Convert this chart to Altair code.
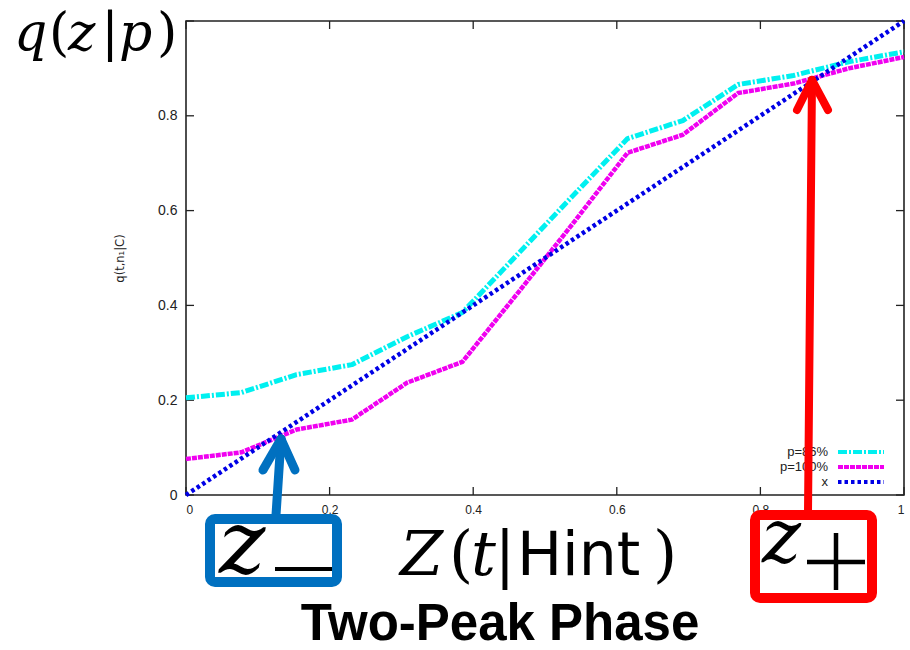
import altair as alt
import pandas as pd

# Curve samples on a grid of 13 steps over [0, 1]
z_grid = [0.0, 0.077, 0.154, 0.231, 0.308, 0.385, 0.462, 0.538, 0.615, 0.692, 0.769, 0.846, 0.923, 1.0]
q_p86 = [0.205, 0.216, 0.254, 0.275, 0.334, 0.385, 0.508, 0.630, 0.752, 0.790, 0.866, 0.885, 0.914, 0.935]
q_p100 = [0.076, 0.090, 0.138, 0.159, 0.237, 0.281, 0.426, 0.571, 0.722, 0.760, 0.848, 0.868, 0.900, 0.924]
diag_x = [0.0, 1.0]
diag_y = [0.0, 1.0]

series_names = ["p=86%", "p=100%", "x"]
series_colors = ["#00F0F0", "#F000F0", "#0000E6"]
series_dashes = [[9, 2, 2, 2], [5, 1], [3.5, 3]]
series_widths = [5, 4.5, 4.5]

x_ticks = [0, 0.2, 0.4, 0.6, 0.8, 1]
y_ticks = [0, 0.2, 0.4, 0.6, 0.8]

W, H = 718, 474
AX = "#222222"

xs = alt.Scale(domain=[0, 1], nice=False)
ys = alt.Scale(domain=[0, 1], nice=False)

x_axis = alt.Axis(values=x_ticks, format="~g", labelFontSize=12, labelColor=AX,
                  labelPadding=9, ticks=False, domain=False, grid=False, title=None,
                  labelFont="Liberation Sans")
y_axis = alt.Axis(values=y_ticks, format="~g", labelFontSize=14, labelColor=AX,
                  labelPadding=9, ticks=False, domain=False, grid=False,
                  title="q(t,n\u2081|C)", titleFontSize=11.5, titleFontWeight="normal",
                  titleColor=AX, titlePadding=32, labelFont="Liberation Sans",
                  titleFont="DejaVu Sans")

one = pd.DataFrame({"k": [0]})

def curve(xv, yv, i):
    df = pd.DataFrame({"z": xv, "q": yv})
    return alt.Chart(df).mark_line(
        color=series_colors[i], strokeDash=series_dashes[i],
        strokeWidth=series_widths[i], strokeCap="butt", strokeJoin="round"
    ).encode(x=alt.X("z:Q", scale=xs, axis=x_axis),
             y=alt.Y("q:Q", scale=ys, axis=y_axis))

layers = []

# inward ticks on all four sides of the frame
xt = pd.DataFrame({"v": x_ticks})
yt = pd.DataFrame({"v": [0, 0.2, 0.4, 0.6, 0.8, 1.0]})
tick_style = dict(color=AX, strokeWidth=1.3)
layers.append(alt.Chart(yt).mark_rule(**tick_style).encode(
    y=alt.Y("v:Q", scale=ys, axis=y_axis), x=alt.value(0), x2=alt.value(8)))
layers.append(alt.Chart(yt).mark_rule(**tick_style).encode(
    y=alt.Y("v:Q", scale=ys, axis=y_axis), x=alt.value(W - 8), x2=alt.value(W)))
layers.append(alt.Chart(xt).mark_rule(**tick_style).encode(
    x=alt.X("v:Q", scale=xs, axis=x_axis), y=alt.value(H), y2=alt.value(H - 8)))
layers.append(alt.Chart(xt).mark_rule(**tick_style).encode(
    x=alt.X("v:Q", scale=xs, axis=x_axis), y=alt.value(0), y2=alt.value(8)))

layers.append(curve(z_grid, q_p86, 0))
layers.append(curve(z_grid, q_p100, 1))
layers.append(curve(diag_x, diag_y, 2))

# key in the lower right corner, labels to the left of the samples
for i, name in enumerate(series_names):
    yy = 431 + 15 * i
    layers.append(alt.Chart(one).mark_text(
        text=name, align="right", baseline="middle", fontSize=13,
        font="Liberation Sans", color=AX).encode(x=alt.value(642), y=alt.value(yy)))
    layers.append(alt.Chart(one).mark_rule(
        color=series_colors[i], strokeDash=series_dashes[i], strokeWidth=4,
        strokeCap="butt").encode(x=alt.value(652), x2=alt.value(698), y=alt.value(yy)))

def txt(s, x, y, size, font, style="normal", weight="normal", align="left", color="black"):
    return alt.Chart(one).mark_text(
        text=s, align=align, baseline="alphabetic", fontSize=size, font=font,
        fontStyle=style, fontWeight=weight, color=color
    ).encode(x=alt.value(x), y=alt.value(y))

def seg(x1, y1, x2, y2, color, width, cap="round"):
    return alt.Chart(one).mark_rule(color=color, strokeWidth=width, strokeCap=cap).encode(
        x=alt.value(x1), y=alt.value(y1), x2=alt.value(x2), y2=alt.value(y2))

SERIF = "DejaVu Serif"

# q(z|p) heading at the top left
layers += [
    txt("q", -172, 29, 52, SERIF, style="italic"),
    txt("(", -137, 29, 52, SERIF),
    txt("z", -118, 29, 52, SERIF, style="italic"),
    txt("|", -76, 29, 52, SERIF, align="center"),
    txt("p", -67, 29, 52, SERIF, style="italic"),
    txt(")", -29, 29, 52, SERIF),
]

# Z(t|Hint) below the x axis
layers += [
    txt("Z", 214, 554, 62, SERIF, style="italic"),
    txt("(", 263, 554, 62, SERIF),
    txt("t", 285, 554, 62, SERIF, style="italic"),
    txt("|", 319, 554, 62, SERIF, align="center"),
    txt("Hint", 331, 554, 60, "DejaVu Sans"),
    txt(")", 467, 554, 62, SERIF),
]

BLUE = "#0070C0"
RED = "#FF0000"

# lower crossing: box and arrow
layers += [
    seg(90, 494, 95, 418, BLUE, 9),
    seg(77, 449, 95, 418, BLUE, 9),
    seg(109, 449, 95, 418, BLUE, 9),
    alt.Chart(one).mark_rect(fill="white", stroke=BLUE, strokeWidth=10, cornerRadius=5).encode(
        x=alt.value(24), x2=alt.value(151), y=alt.value(498), y2=alt.value(561)),
    txt("z", 33, 552, 88, SERIF, style="italic"),
    seg(89, 548, 146, 548, "black", 4, cap="butt"),
]

# upper crossing: box and arrow
layers += [
    seg(622, 492, 626, 59, RED, 8),
    seg(611, 89, 626, 59, RED, 8),
    seg(642, 89, 626, 59, RED, 8),
    alt.Chart(one).mark_rect(fill="white", stroke=RED, strokeWidth=10, cornerRadius=5).encode(
        x=alt.value(569), x2=alt.value(686), y=alt.value(494), y2=alt.value(577)),
    txt("z", 576, 541, 74, SERIF, style="italic"),
    seg(621, 541, 679, 541, "black", 4.5, cap="butt"),
    seg(650, 512, 650, 569, "black", 4.5, cap="butt"),
]

# phase caption
layers.append(txt("Two-Peak Phase", 314, 619, 51, "Liberation Sans", weight="bold", align="center"))

chart = alt.layer(*layers).properties(
    width=W, height=H,
    autosize=alt.AutoSizeParams(type="none"),
    padding={"left": 186, "top": 21, "right": 6, "bottom": 155},
    background="white",
).configure_view(stroke=AX, strokeWidth=1.6)

chart.save("out.html", embed_options={"renderer": "svg", "actions": False})
